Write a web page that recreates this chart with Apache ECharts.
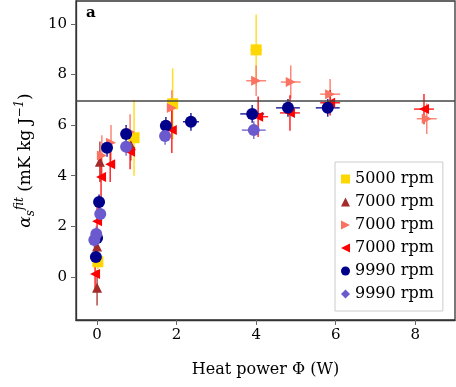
<!DOCTYPE html>
<html>
<head>
<meta charset="utf-8">
<script src="https://cdn.jsdelivr.net/npm/echarts@6/dist/echarts.min.js"></script>
<style>
  html, body { margin: 0; padding: 0; background: #fff; }
  #chart { width: 456px; height: 387px; }
</style>
</head>
<body>
<div id="chart"></div>
<script>
// each point: [heat power (W), alpha fit, x error, y error]
const rpm5000 = [[0.02, 0.6, 0.04, 0.3], [0.93, 5.5, 0.05, 1.5], [1.9, 6.84, 0.05, 1.4], [4.0, 8.97, 0.15, 1.4]];
const rpm7000a = [[0.0, -0.43, 0.03, 0.7], [0.0, 1.2, 0.03, 0.6], [0.07, 4.55, 0.04, 0.8], [0.85, 5.2, 0.05, 0.6]];
const rpm7000b = [[0.12, 4.8, 0.04, 0.8], [0.35, 5.3, 0.05, 0.7], [0.83, 5.73, 0.05, 0.7], [1.88, 6.67, 0.05, 0.7],
  [4.0, 7.75, 0.25, 0.6], [4.87, 7.7, 0.25, 0.65], [5.86, 7.22, 0.25, 0.6], [8.29, 6.25, 0.25, 0.6]];
const rpm7000c = [[-0.05, 0.12, 0.03, 0.6], [0.0, 2.2, 0.03, 0.6], [0.1, 3.95, 0.04, 0.8], [0.33, 4.45, 0.05, 0.7],
  [0.83, 4.95, 0.05, 0.7], [1.88, 5.8, 0.05, 0.9], [4.05, 6.33, 0.25, 0.8], [4.85, 6.48, 0.25, 0.7],
  [5.86, 6.88, 0.25, 0.5], [8.22, 6.63, 0.25, 0.6]];
const rpm9990a = [[-0.03, 0.79, 0.05, 0.3], [0.0, 1.54, 0.05, 0.3], [0.05, 2.96, 0.05, 0.3], [0.25, 5.1, 0.08, 0.35],
  [0.73, 5.65, 0.08, 0.35], [1.73, 5.97, 0.08, 0.35], [2.36, 6.13, 0.2, 0.35], [3.9, 6.44, 0.3, 0.35],
  [4.8, 6.68, 0.3, 0.35], [5.8, 6.68, 0.3, 0.35]];
const rpm9990b = [[-0.07, 1.46, 0.05, 0.3], [-0.02, 1.7, 0.05, 0.3], [0.08, 2.49, 0.05, 0.3], [0.73, 5.14, 0.08, 0.35],
  [1.71, 5.57, 0.08, 0.35], [3.94, 5.8, 0.3, 0.35]];

const labels = ['5000 rpm', '7000 rpm', '7000 rpm', '7000 rpm', '9990 rpm', '9990 rpm'];
const refLevel = 6.95;
const xTicks = [0, 2, 4, 6, 8];
const yTicks = [0, 2, 4, 6, 8, 10];

const font = 'DejaVu Serif';
const rightTri = 'path://M0,0L10,5L0,10Z';
const leftTri = 'path://M10,0L0,5L10,10Z';

const groups = [
  { data: rpm5000, color: '#FFD700', symbol: 'rect', size: 11, icon: 'rect' },
  { data: rpm7000a, color: '#A52A2A', symbol: 'triangle', size: 10, icon: 'triangle' },
  { data: rpm7000b, color: '#FA7262', symbol: rightTri, size: 10, icon: rightTri },
  { data: rpm7000c, color: '#FF0000', symbol: leftTri, size: 10, icon: leftTri },
  { data: rpm9990a, color: '#00008B', symbol: 'circle', size: 12, icon: 'circle' },
  { data: rpm9990b, color: '#6A5ACD', symbol: 'circle', size: 12, icon: 'diamond' }
];
// legend needs unique series names, pad with trailing spaces
const names = labels.map((l, i) => l + ' '.repeat(i));

function errorBars(data, color) {
  return {
    type: 'custom',
    data: data,
    silent: true,
    z: 1,
    encode: { x: 0, y: 1 },
    renderItem: (params, api) => {
      const x = api.value(0), y = api.value(1), dx = api.value(2), dy = api.value(3);
      const l = api.coord([x - dx, y]), r = api.coord([x + dx, y]);
      const t = api.coord([x, y + dy]), b = api.coord([x, y - dy]);
      const style = { stroke: color, lineWidth: 1.5, opacity: 0.85 };
      return {
        type: 'group',
        children: [
          { type: 'line', shape: { x1: l[0], y1: l[1], x2: r[0], y2: r[1] }, style: style },
          { type: 'line', shape: { x1: t[0], y1: t[1], x2: b[0], y2: b[1] }, style: style }
        ]
      };
    }
  };
}

const series = [];
groups.forEach((g, i) => {
  series.push(errorBars(g.data, g.color));
  series.push({
    type: 'scatter',
    name: names[i],
    data: g.data.map(d => [d[0], d[1]]),
    symbol: g.symbol,
    symbolSize: g.size,
    itemStyle: { color: g.color, opacity: 1 },
    z: 2
  });
});
series[1].markLine = {
  symbol: 'none',
  silent: true,
  label: { show: false },
  lineStyle: { color: '#444', width: 1.6, type: 'solid' },
  data: [{ yAxis: refLevel }]
};

const chart = echarts.init(document.getElementById('chart'));
chart.setOption({
  animation: false,
  backgroundColor: '#fff',
  title: {
    text: 'a', left: 81, top: 1,
    textStyle: { fontFamily: font, fontWeight: 'bold', fontSize: 15, color: '#000' }
  },
  grid: { left: 76, right: 1, top: 1, bottom: 67, show: true, borderColor: '#333', borderWidth: 1.3 },
  legend: {
    orient: 'vertical',
    left: 335, top: 162,
    data: names.map((n, i) => ({ name: n, icon: groups[i].icon })),
    formatter: n => n.trim(),
    itemWidth: 9, itemHeight: 9, itemGap: 7,
    padding: [9, 9, 9, 6],
    borderColor: '#ccc', borderWidth: 1, backgroundColor: '#fff',
    textStyle: { fontFamily: font, fontSize: 16, color: '#000' }
  },
  xAxis: {
    type: 'value', min: -0.53, max: 9.0,
    name: 'Heat power Φ (W)', nameLocation: 'middle', nameGap: 42,
    nameTextStyle: { fontFamily: font, fontSize: 16, color: '#000' },
    axisLine: { show: true, onZero: false, lineStyle: { color: '#333', width: 1.3 } },
    axisTick: { show: true, customValues: xTicks, length: 5, lineStyle: { color: '#666' } },
    axisLabel: { customValues: xTicks, fontFamily: font, fontSize: 15, color: '#000', margin: 8 },
    splitLine: { show: false }
  },
  yAxis: {
    type: 'value', min: -1.7, max: 10.9,
    name: '{al|α}{sub|s}{sup|fit} (mK kg J{sup|−1})', nameLocation: 'middle', nameGap: 38, nameRotate: 90,
    nameTextStyle: {
      fontFamily: font, fontSize: 17, color: '#000',
      rich: {
        al: { fontFamily: font, fontSize: 17, fontStyle: 'italic', color: '#000' },
        sub: { fontFamily: font, fontSize: 12, fontStyle: 'italic', color: '#000', padding: [10, 0, 0, 0] },
        sup: { fontFamily: font, fontSize: 12, fontStyle: 'italic', color: '#000', padding: [0, 0, 12, 0] }
      }
    },
    axisLine: { show: true, onZero: false, lineStyle: { color: '#333', width: 1.3 } },
    axisTick: { show: true, customValues: yTicks, length: 5, lineStyle: { color: '#666' } },
    axisLabel: { customValues: yTicks, fontFamily: font, fontSize: 15, color: '#000', margin: 9 },
    splitLine: { show: false }
  },
  series: series
});
</script>
</body>
</html>
